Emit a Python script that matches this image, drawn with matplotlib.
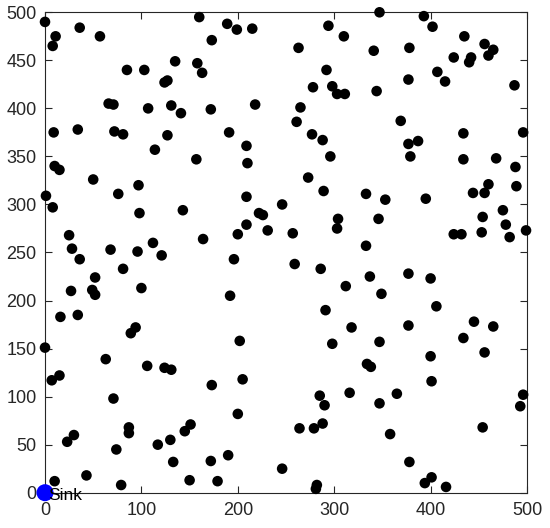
import matplotlib
matplotlib.use("Agg")
import matplotlib.pyplot as plt

node_x = [0, 36, 11, 8, 57, 160, 189, 199, 215, 173, 135, 158, 163, 85, 103, 124, 127, 66, 71, 107,
          131, 141, 172, 218, 9, 34, 72, 81, 127, 191, 209, 210, 114, 157, 10, 15, 50, 97, 76, 1,
          8, 98, 143, 209, 222, 226, 246, 209, 200, 231, 164, 25, 28, 68, 96, 112, 121,
          36, 196, 52, 81, 100, 27, 49, 52, 192, 16, 34, 89, 94, 0, 202, 63, 106, 124, 131,
          7, 15, 173, 205, 71, 200, 87, 87, 30, 23, 74, 117, 130, 145, 151, 133, 172, 190, 246,
          43, 10, 79, 150, 179,
          347, 393, 402, 294, 310, 263, 341, 378, 435, 456, 465, 460, 424, 442, 440, 292, 407, 415,
          377, 278, 298, 303, 311, 344, 487, 265, 261, 369, 277, 288, 377, 387, 434, 496, 296, 379,
          434, 468, 488, 273, 289, 333, 353, 395, 444, 456, 460, 489, 304, 303, 346, 257, 333, 454,
          475, 478, 482, 499, 424, 432, 453,
          259, 286, 337, 312, 349, 377, 400, 406, 291, 318, 377, 445, 465, 298, 347, 434, 456, 400,
          334, 338, 401, 285, 316, 365, 290, 347, 496, 493, 264, 279, 288, 358, 454, 378, 394, 401,
          416, 282, 281]
node_y = [490, 484, 475, 465, 475, 495, 488, 482, 483, 471, 449, 447, 437, 440, 440, 427, 429, 405, 404, 400,
          403, 395, 399, 404, 375, 378, 376, 373, 372, 375, 361, 343, 357, 347, 340, 336, 326, 320, 311, 309,
          297, 291, 294, 308, 291, 289, 300, 279, 269, 273, 264, 268, 254, 253, 251, 260, 247,
          243, 243, 224, 233, 213, 210, 211, 206, 205, 183, 185, 166, 172, 151, 158, 139, 132, 130, 128,
          117, 122, 112, 118, 98, 82, 68, 62, 60, 53, 45, 50, 55, 64, 71, 32, 33, 39, 25,
          18, 12, 8, 13, 12,
          500, 496, 485, 486, 475, 463, 460, 463, 475, 467, 461, 455, 453, 453, 448, 440, 438, 428,
          430, 422, 423, 415, 415, 418, 424, 401, 386, 387, 373, 367, 363, 366, 374, 375, 350, 350,
          347, 348, 339, 328, 314, 311, 305, 306, 312, 312, 321, 319, 285, 275, 285, 270, 257, 287,
          294, 279, 266, 273, 269, 269, 271,
          238, 233, 225, 215, 207, 228, 223, 194, 190, 172, 174, 178, 173, 155, 157, 161, 146, 142,
          134, 131, 116, 101, 104, 103, 91, 93, 102, 90, 67, 67, 72, 61, 68, 32, 10, 16,
          6, 8, 4]

sink_x = [0]
sink_y = [0]
sink_label = "Sink"
x_ticks = [0, 100, 200, 300, 400, 500]
y_ticks = [0, 50, 100, 150, 200, 250, 300, 350, 400, 450, 500]

plt.rcParams['font.family'] = ['Liberation Sans', 'DejaVu Sans']
axis_col = (0.15, 0.15, 0.15)

fig = plt.figure(figsize=(5.5, 5.28), dpi=100)
ax = fig.add_axes([45/550, (528-492.7)/528, 482/550, 480.4/528])

ax.scatter(node_x, node_y, s=58, c='black', edgecolors='none', clip_on=False, zorder=3)
ax.scatter(sink_x, sink_y, s=150, c='#0000ff', edgecolors='none', clip_on=False, zorder=4)
ax.text(sink_x[0] + 3, sink_y[0] - 3, sink_label, fontsize=12.5, color='black',
        ha='left', va='center', clip_on=False, zorder=5)

ax.set_xlim(0, 500)
ax.set_ylim(0, 500)
ax.set_xticks(x_ticks)
ax.set_yticks(y_ticks)
ax.tick_params(direction='in', length=5, width=0.8, colors=axis_col, labelsize=13,
               top=True, right=True, labelcolor=axis_col)
ax.tick_params(axis='x', pad=7)
ax.tick_params(axis='y', pad=6)
for sp in ax.spines.values():
    sp.set_color(axis_col)
    sp.set_linewidth(0.8)

fig.savefig("out.png", dpi=100, facecolor='white')
